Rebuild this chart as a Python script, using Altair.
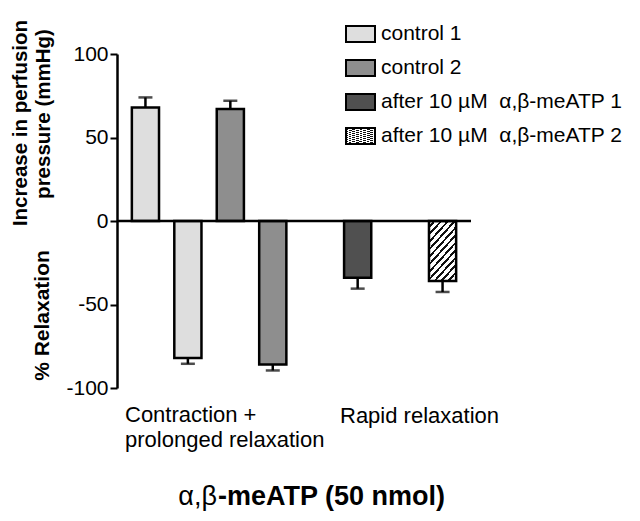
import altair as alt
import pandas as pd

# ---------------- data ----------------
series = ["control 1", "control 1", "control 2", "control 2",
          "after 10 µM\u00a0 α,β-meATP 1", "after 10 µM\u00a0 α,β-meATP 2"]
phases = ["contraction", "prolonged relaxation", "contraction",
          "prolonged relaxation", "rapid relaxation", "rapid relaxation"]
values = [68, -82, 67, -86, -34, -36]
errors = [6, 3.5, 5, 3.5, 6.5, 6.5]
legend_order = ["control 1", "control 2",
                "after 10 µM\u00a0 α,β-meATP 1", "after 10 µM\u00a0 α,β-meATP 2"]
group_labels = [["Contraction +", "prolonged relaxation"], ["Rapid relaxation"]]
y_ticks = [-100, -50, 0, 50, 100]
y_title_top = ["Increase in perfusion", "pressure (mmHg)"]
y_title_bottom = "% Relaxation"
title_parts = ["α,β", "-meATP (50 nmol)"]

FONT = "Liberation Sans"

keys = [f"{s}|{p}" for s, p in zip(series, phases)]
df = pd.DataFrame({"key": keys, "series": series, "phase": phases,
                   "value": values, "err": errors})
x_domain = keys[:4] + ["gap1", keys[4], "gap2", keys[5]]

# hatch fill as a striped linear gradient
n = 12
stops = []
for k in range(n):
    a, b, c = k / n, (k + 0.62) / n, (k + 1) / n
    stops += [(a, "#ffffff"), (b, "#ffffff"), (b, "#111111"), (c, "#111111")]
stops_str = ",".join("{offset:%.4f,color:'%s'}" % (o, col) for o, col in stops)
hatch = "{gradient:'linear',x1:0,y1:0,x2:0.6,y2:1.2,stops:[" + stops_str + "]}"

fills = ["#dedede", "#8e8e8e", "#505050", alt.ExprRef(expr=hatch)]

x_enc = alt.X("key:N", scale=alt.Scale(domain=x_domain, paddingInner=0.36,
                                       paddingOuter=0.35), axis=None)
y_scale = alt.Scale(domain=[-100, 100], nice=False, zero=False)
y_axis = alt.Axis(values=y_ticks, title=None, grid=False, domainColor="black",
                  domainWidth=2.5, tickColor="black", tickWidth=2, tickSize=7,
                  labelFontSize=21, labelFont=FONT, labelColor="black",
                  labelPadding=2, labelExpr="'' + datum.value")

base = alt.Chart(df)

bars = base.mark_bar(stroke="black", strokeWidth=2.5).encode(
    x=x_enc,
    y=alt.Y("value:Q", scale=y_scale, axis=y_axis),
    fill=alt.Fill("series:N",
                  scale=alt.Scale(domain=legend_order, range=fills),
                  legend=alt.Legend(orient="none", legendX=228, legendY=-35.5,
                                    title=None, padding=0,
                                    symbolType="M-1,-0.55H1V0.55H-1Z",
                                    symbolSize=841, symbolStrokeColor="black",
                                    symbolStrokeWidth=2, labelFontSize=21,
                                    labelFont=FONT, labelColor="black",
                                    rowPadding=6, labelOffset=5, labelLimit=400)),
)

zero = alt.Chart(alt.InlineData(values=[{"z": 0}])).mark_rule(
    color="black", strokeWidth=2.5).encode(y="z:Q")

err_base = base.transform_calculate(
    end="datum.value + (datum.value < 0 ? -1 : 1) * datum.err")
err_rule = err_base.mark_rule(color="black", strokeWidth=2.5).encode(
    x=x_enc, y="value:Q", y2="end:Q")
err_cap = err_base.mark_tick(color="black", thickness=2.5, size=14).encode(
    x=x_enc, y="end:Q")


def txt(value, x, y, **kw):
    return alt.Chart(alt.InlineData(values=[{"t": value}])).mark_text(
        font=FONT, color="black", **kw).encode(
        text="t:N", x=alt.value(x), y=alt.value(y))


def txt_multi(lines, x, y, **kw):
    return alt.Chart(alt.InlineData(values=[{"t": 0}])).mark_text(
        font=FONT, color="black", text=lines, **kw).encode(
        x=alt.value(x), y=alt.value(y))


yt1 = txt(y_title_top[0], -96, 69, fontSize=20.5, fontWeight="bold",
          angle=270, align="center", baseline="middle")
yt2 = txt(y_title_top[1], -73.5, 60, fontSize=20.5, fontWeight="bold",
          angle=270, align="center", baseline="middle")
yt3 = txt(y_title_bottom, -74, 261.5, fontSize=21, fontWeight="bold",
          angle=270, align="center", baseline="middle")

cat1 = txt_multi(group_labels[0], 8, 368, fontSize=22, align="left",
                 baseline="alphabetic", lineHeight=25)
cat2 = txt_multi(group_labels[1], 223, 369, fontSize=22, align="left",
                 baseline="alphabetic", lineHeight=25)

t1 = txt(title_parts[0], 100, 451, fontSize=27, align="right",
         baseline="alphabetic")
t2 = txt(title_parts[1], 101, 451, fontSize=27, fontWeight="bold",
         align="left", baseline="alphabetic")

chart = alt.layer(bars, zero, err_rule, err_cap, yt1, yt2, yt3, cat1, cat2,
                  t1, t2).properties(
    width=354, height=334,
    autosize=alt.AutoSizeParams(type="none"),
    padding={"left": 109, "top": 46, "right": 161, "bottom": 125},
).configure(font=FONT, view=alt.ViewConfig(strokeWidth=0, stroke=None))

chart.save("out.html", embed_options={"renderer": "svg", "actions": False})
